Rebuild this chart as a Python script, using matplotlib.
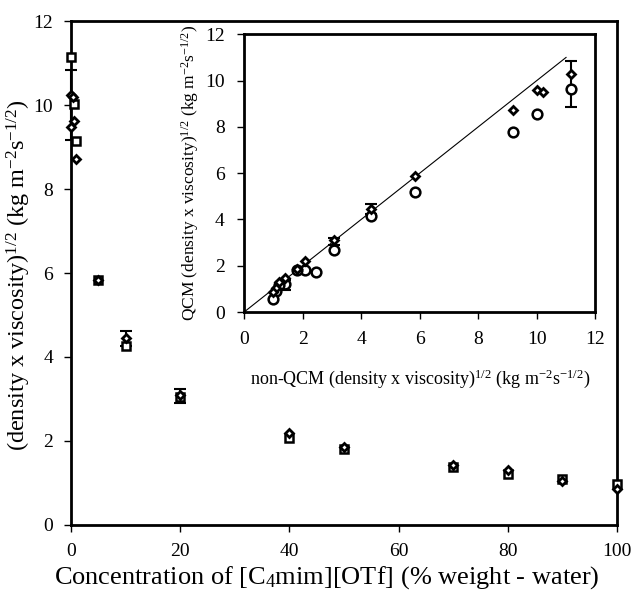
import numpy as np
import matplotlib.pyplot as plt

plt.rcParams['font.family'] = ['Liberation Serif', 'DejaVu Serif']
plt.rcParams['mathtext.fontset'] = 'custom'
plt.rcParams['mathtext.rm'] = 'Liberation Serif'
plt.rcParams['mathtext.it'] = 'Liberation Serif:italic'

# main plot: non-QCM (squares) and QCM (diamonds) vs concentration
conc_sq = [0, 0.5, 1, 5, 10, 20, 40, 50, 70, 80, 90, 100]
val_sq = [11.15, 10.02, 9.15, 5.83, 4.25, 3.05, 2.07, 1.80, 1.38, 1.20, 1.08, 0.98]

conc_di = [0, 0.3, 0, 0.5, 1, 5, 10, 20, 40, 50, 70, 80, 90, 100]
val_di = [10.25, 10.2, 9.48, 9.63, 8.71, 5.83, 4.45, 3.1, 2.18, 1.85, 1.42, 1.3, 1.05, 0.85]

err_conc = [0, 10, 20]
err_val = [10.01, 4.45, 3.07]
err_size = [0.84, 0.18, 0.17]

# inset: QCM vs non-QCM
non_qcm_di = [11.17, 10.02, 10.2, 9.18, 5.84, 4.32, 3.07, 2.08, 1.80, 1.40, 1.20, 1.08, 0.98]
qcm_di = [10.3, 9.6, 9.5, 8.72, 5.86, 4.45, 3.1, 2.2, 1.85, 1.45, 1.3, 1.05, 0.85]

non_qcm_ci = [11.17, 10.02, 9.18, 5.84, 4.32, 3.07, 2.08, 2.45, 1.80, 1.40, 1.20, 1.08, 0.98]
qcm_ci = [9.62, 8.56, 7.78, 5.2, 4.15, 2.7, 1.83, 1.72, 1.82, 1.2, 1.15, 0.9, 0.55]

ins_err_x = [11.17, 4.32, 3.07, 1.40]
ins_err_y = [9.86, 4.45, 3.05, 1.17]
ins_err = [1.0, 0.2, 0.15, 0.23]

line_x = [0, 11]

fig = plt.figure(figsize=(6.34, 5.91), dpi=100)
ax = fig.add_axes([0.112, 0.112, 0.861, 0.852])

ax.errorbar(err_conc, err_val, yerr=err_size, fmt='none', ecolor='black',
            elinewidth=1.5, capsize=4, capthick=1.5, zorder=2, clip_on=False)
ax.plot(conc_sq, val_sq, linestyle='none', marker='s', markersize=6,
        markerfacecolor='white', markeredgecolor='black', markeredgewidth=1.8,
        zorder=3, clip_on=False)
ax.plot(conc_di, val_di, linestyle='none', marker='D', markersize=4.5,
        markerfacecolor='white', markeredgecolor='black', markeredgewidth=2,
        zorder=4, clip_on=False)

ax.set_xlim(0, 100)
ax.set_ylim(0, 12)
ax.set_xticks(np.arange(0, 101, 20))
ax.set_yticks(np.arange(0, 13, 2))
ax.tick_params(direction='out', length=5, width=1, labelsize=14, pad=8)
for s in ax.spines.values():
    s.set_linewidth(2)
ax.set_xlabel('Concentration of [C$_4$mim][OTf] (% weight - water)', fontsize=19)
ax.xaxis.set_label_coords(0.469, -0.079)
ax.set_ylabel('(density x viscosity)$^{1/2}$ (kg m$^{-2}$s$^{-1/2}$)', fontsize=17.5)
ax.yaxis.set_label_coords(-0.07, 0.496)

# inset
ins = fig.add_axes([0.385, 0.472, 0.554, 0.470])
ins.plot(line_x, line_x, color='black', linewidth=0.8)
ins.errorbar(ins_err_x, ins_err_y, yerr=ins_err, fmt='none', ecolor='black',
             elinewidth=1.5, capsize=4, capthick=1.5, zorder=2)
ins.plot(non_qcm_ci, qcm_ci, linestyle='none', marker='o', markersize=7,
         markerfacecolor='white', markeredgecolor='black', markeredgewidth=1.8, zorder=3)
ins.plot(non_qcm_di, qcm_di, linestyle='none', marker='D', markersize=4.5,
         markerfacecolor='white', markeredgecolor='black', markeredgewidth=2, zorder=4)
ins.set_xlim(0, 12)
ins.set_ylim(0, 12)
ins.set_xticks(np.arange(0, 13, 2))
ins.set_yticks(np.arange(0, 13, 2))
ins.tick_params(direction='out', length=5, width=1, labelsize=14, pad=9)
for s in ins.spines.values():
    s.set_linewidth(2)
ins.set_xlabel('non-QCM (density x viscosity)$^{1/2}$ (kg m$^{-2}$s$^{-1/2}$)', fontsize=13, labelpad=14)
ins.set_ylabel('QCM (density x viscosity)$^{1/2}$ (kg m$^{-2}$s$^{-1/2}$)', fontsize=12.5, labelpad=3)

fig.savefig('out.png', dpi=100)
